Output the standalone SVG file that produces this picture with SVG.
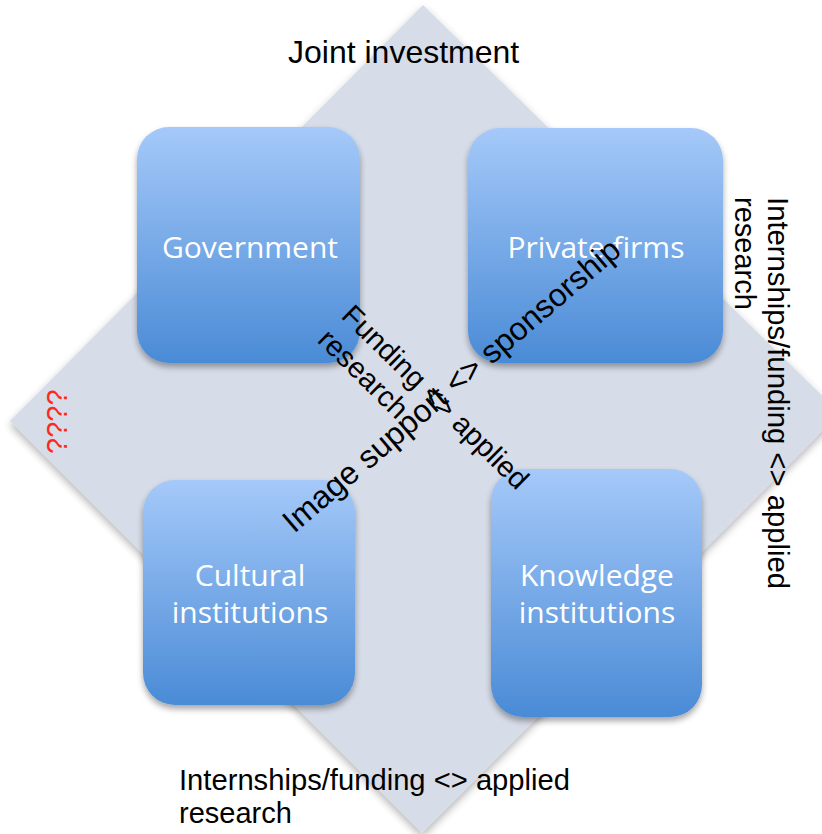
<svg xmlns="http://www.w3.org/2000/svg" width="822" height="834" viewBox="0 0 822 834">
<defs>
<linearGradient id="boxg" x1="0" y1="0" x2="0" y2="1">
<stop offset="0" stop-color="#a5c9f9"/>
<stop offset="1" stop-color="#4a8bd6"/>
</linearGradient>
<filter id="sh" x="-10%" y="-10%" width="120%" height="125%">
<feGaussianBlur in="SourceAlpha" stdDeviation="3"/>
<feOffset dx="0" dy="4" result="b"/>
<feComponentTransfer><feFuncA type="linear" slope="0.35"/></feComponentTransfer>
<feMerge><feMergeNode/><feMergeNode in="SourceGraphic"/></feMerge>
</filter>
<filter id="dsh" x="-5%" y="-5%" width="110%" height="110%">
<feGaussianBlur in="SourceAlpha" stdDeviation="4"/>
<feOffset dx="0" dy="4" result="b"/>
<feComponentTransfer><feFuncA type="linear" slope="0.3"/></feComponentTransfer>
<feMerge><feMergeNode/><feMergeNode in="SourceGraphic"/></feMerge>
</filter>
</defs>
<style>
.box{fill:url(#boxg);filter:url(#sh)}
.bl{font-family:"Open Sans","Noto Sans",sans-serif;font-size:30px;fill:#ffffff;text-anchor:middle}
.lb{font-family:"Liberation Sans",Arial,sans-serif;font-size:29px;fill:#000000}
.big{font-size:32px}
.q{font-family:"Liberation Sans",Arial,sans-serif;font-size:29px;fill:#ff2a1a}
</style>
<rect width="822" height="834" fill="#ffffff"/>
<g id="diamond">
<polygon points="423,5 840,413 422,833 10,421" fill="#d6dce8" filter="url(#dsh)"/>
</g>
<g id="government">
<rect class="box" x="137" y="127" width="223" height="236" rx="32"/>
<text class="bl" x="250" y="258">Government</text>
</g>
<g id="private-firms">
<rect class="box" x="468" y="128" width="255" height="235" rx="32"/>
<text class="bl" x="596" y="258">Private firms</text>
</g>
<g id="cultural-institutions">
<rect class="box" x="143" y="480" width="212" height="225" rx="32"/>
<text class="bl" x="250" y="586">Cultural<tspan x="250" dy="37">institutions</tspan></text>
</g>
<g id="knowledge-institutions">
<rect class="box" x="491" y="469" width="211" height="248" rx="32"/>
<text class="bl" x="597" y="586">Knowledge<tspan x="597" dy="37">institutions</tspan></text>
</g>
<g id="connectors">
<text class="lb big" x="288" y="63">Joint investment</text>
<text class="lb" x="179" y="790"><tspan textLength="391" lengthAdjust="spacingAndGlyphs">Internships/funding &lt;&gt; applied</tspan><tspan x="179" dy="33">research</tspan></text>
<text class="lb" transform="translate(768,197) rotate(90)"><tspan x="0" y="0" textLength="392" lengthAdjust="spacingAndGlyphs">Internships/funding &lt;&gt; applied</tspan><tspan x="0" dy="33">research</tspan></text>
<text class="q" transform="translate(67,454) rotate(-90)">????</text>
<text class="lb" transform="translate(340,317) rotate(44.5)">Funding &lt;&gt; applied<tspan x="0" dy="34">research</tspan></text>
<text class="lb big" transform="translate(294,534) rotate(-40.5)">Image support &lt;&gt; sponsorship</text>
</g>
</svg>
